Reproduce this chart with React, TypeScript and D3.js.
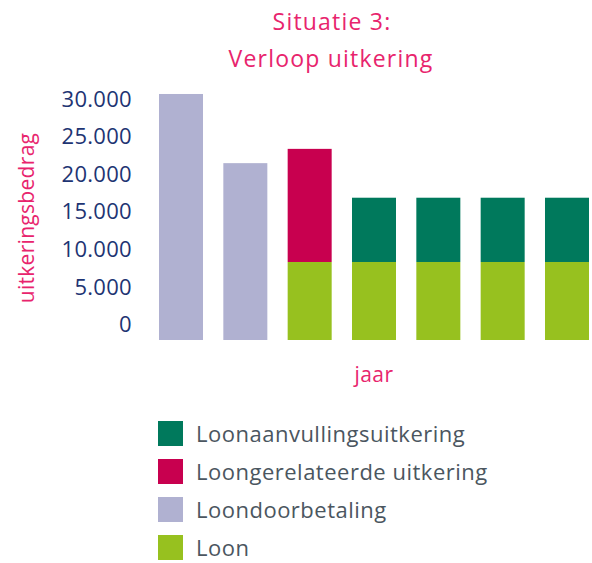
import React, { useRef, useEffect } from 'react';
import * as d3 from 'd3';

// one column per year (no labels are printed under the bars)
const years = ['1', '2', '3', '4', '5', '6', '7'];

const loon = [0, 0, 8250, 8250, 8250, 8250, 8250];
const loondoorbetaling = [30600, 21400, 0, 0, 0, 0, 0];
const loongerelateerd = [0, 0, 15050, 0, 0, 0, 0];
const loonaanvulling = [0, 0, 0, 8550, 8550, 8550, 8550];

const yTicks = [0, 5000, 10000, 15000, 20000, 25000, 30000];

const seriesKeys = ['loon', 'loondoorbetaling', 'loongerelateerd', 'loonaanvulling'];
const seriesColors: Record<string, string> = {
  loon: '#97c11f',
  loondoorbetaling: '#b0b1d1',
  loongerelateerd: '#c8004f',
  loonaanvulling: '#00795c'
};

// legend order as printed (top to bottom)
const legendItems = [
  { key: 'loonaanvulling', label: 'Loonaanvullingsuitkering' },
  { key: 'loongerelateerd', label: 'Loongerelateerde uitkering' },
  { key: 'loondoorbetaling', label: 'Loondoorbetaling' },
  { key: 'loon', label: 'Loon' }
];

const W = 592;
const H = 563;
const FONT = '"Open Sans", "Noto Sans", sans-serif';
const PINK = '#e8246d';
const NAVY = '#1e3473';

const App = () => {
  const svgRef = useRef<SVGSVGElement>(null);

  useEffect(() => {
    const svg = d3.select(svgRef.current);
    svg.selectAll('*').remove();

    const rows = years.map((y, i) => ({
      year: y,
      loon: loon[i],
      loondoorbetaling: loondoorbetaling[i],
      loongerelateerd: loongerelateerd[i],
      loonaanvulling: loonaanvulling[i]
    }));

    const x = d3.scaleBand().domain(years).range([159, 589]).paddingInner(0.316).paddingOuter(0);
    const y = d3.scaleLinear().domain([0, 30000]).range([324, 98.5]);
    const barBottom = 340;

    const stacked = d3.stack<any>().keys(seriesKeys)(rows);

    // bars
    svg
      .append('g')
      .selectAll('g')
      .data(stacked)
      .join('g')
      .attr('fill', d => seriesColors[d.key])
      .selectAll('rect')
      .data(d => d.filter(p => p[1] - p[0] > 0))
      .join('rect')
      .attr('x', d => x(d.data.year) as number)
      .attr('width', x.bandwidth())
      .attr('y', d => y(d[1]))
      .attr('height', d => (d[0] === 0 ? barBottom : y(d[0])) - y(d[1]));

    // y axis labels (no line, no ticks)
    const yAxis = d3
      .axisLeft(y)
      .tickValues(yTicks)
      .tickSize(0)
      .tickPadding(0)
      .tickFormat(d => d3.format(',')(d as number).replace(/,/g, '.'));
    const ga = svg.append('g').attr('transform', 'translate(132,0)').call(yAxis);
    ga.select('.domain').remove();
    ga.selectAll('text')
      .attr('font-family', FONT)
      .attr('font-size', 22)
      .attr('letter-spacing', 0.3)
      .attr('fill', NAVY)
      .attr('dy', '0.35em');

    // y axis title
    svg
      .append('text')
      .attr('transform', 'translate(34,218) rotate(-90)')
      .attr('text-anchor', 'middle')
      .attr('font-family', FONT)
      .attr('font-size', 21)
      .attr('letter-spacing', 0.3)
      .attr('fill', PINK)
      .text('uitkeringsbedrag');

    // x axis title
    svg
      .append('text')
      .attr('x', 374)
      .attr('y', 382)
      .attr('text-anchor', 'middle')
      .attr('font-family', FONT)
      .attr('font-size', 21)
      .attr('letter-spacing', 0.5)
      .attr('fill', PINK)
      .text('jaar');

    // title
    const title = svg
      .append('text')
      .attr('text-anchor', 'middle')
      .attr('font-family', FONT)
      .attr('font-size', 23)
      .attr('letter-spacing', 1.2)
      .attr('fill', PINK);
    title.append('tspan').attr('x', 332).attr('y', 30).text('Situatie 3:');
    title.append('tspan').attr('x', 331).attr('y', 67).text('Verloop uitkering');

    // legend
    const legend = svg
      .append('g')
      .selectAll('g')
      .data(legendItems)
      .join('g')
      .attr('transform', (d, i) => `translate(158, ${421 + i * 38})`);
    legend
      .append('rect')
      .attr('width', 25)
      .attr('height', 25)
      .attr('fill', d => seriesColors[d.key]);
    legend
      .append('text')
      .attr('x', 38)
      .attr('y', 21)
      .attr('font-family', FONT)
      .attr('font-size', 22)
      .attr('letter-spacing', 0.5)
      .attr('fill', '#4b5660')
      .text(d => d.label);
  }, []);

  return (
    <svg
      ref={svgRef}
      width={W}
      height={H}
      style={{ position: 'absolute', left: 0, top: 0, display: 'block', background: '#fff' }}
    />
  );
};

export default App;
